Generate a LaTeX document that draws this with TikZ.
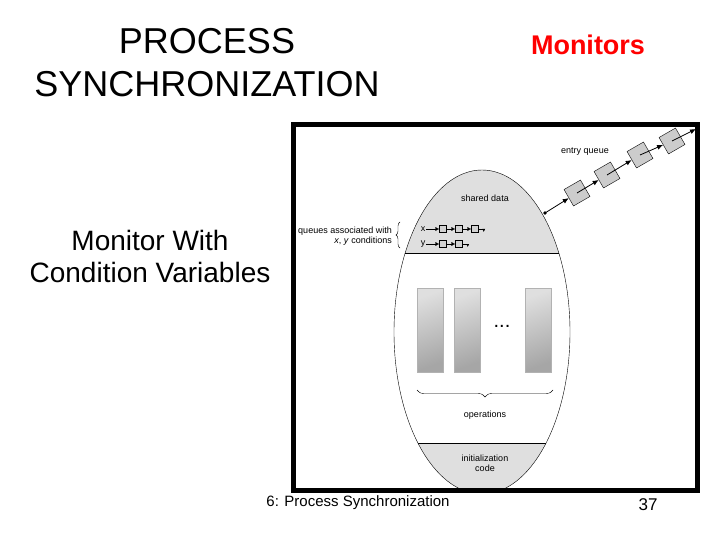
\documentclass[tikz,border=0pt]{standalone}
\usepackage{fontspec}
\setmainfont{Liberation Sans}
\usetikzlibrary{calc,decorations.pathreplacing,arrows.meta}
\begin{document}
\begin{tikzpicture}[x=1pt,y=-1pt,
  opbox/.style={draw=gray!60,top color=gray!25,bottom color=gray!70,shading angle=20},
  qbox/.style={draw,fill=gray!35,minimum size=7pt,inner sep=0pt},
  ebox/.style={draw,fill=gray!40,minimum size=19pt,inner sep=0pt,rotate=30},
  small/.style={font=\fontsize{9}{10}\selectfont,inner sep=1pt}]
  \useasboundingbox (0,0) rectangle (720,540);

  %% Titles
  \node[align=center,font=\fontsize{36}{43}\selectfont] (title) at (207,63) {PROCESS\\SYNCHRONIZATION};
  \node[text=red,font=\fontsize{27}{30}\selectfont\bfseries] (mon) at (588,45) {Monitors};
  \node[align=center,font=\fontsize{28}{32}\selectfont] (sub) at (150,256) {Monitor With\\Condition Variables};
  \node[font=\fontsize{15}{17}\selectfont] (foot) at (358,503) {6: Process Synchronization};
  \node[font=\fontsize{17}{19}\selectfont] (page) at (648,505) {37};

  %% Monitor body
  \begin{scope}
    \clip (293,125) rectangle (697,490);
    \fill[white] (482,332) ellipse (88 and 162);
    \begin{scope}
      \clip (482,332) ellipse (88 and 162);
      \fill[gray!25] (380,160) rectangle (580,253);
      \fill[gray!25] (380,443) rectangle (580,500);
      \draw[thick] (380,253) -- (580,253);
      \draw (380,443) -- (580,443);
    \end{scope}
    \draw (482,332) ellipse (88 and 162);
  \end{scope}
  \draw[line width=5pt] (293,125) rectangle (697,490);

  \node[small] (shared) at (485,198) {shared data};

  %% Operations
  \foreach \x/\n in {417/1,454/2,525/3}
    \draw[opbox] (\x,288) rectangle (\x+26,372) coordinate (op\n);
  \node[font=\fontsize{20}{20}\selectfont] (dots) at (502,326) {...};
  \draw[decorate,decoration={brace,amplitude=7pt,mirror}] (417,390) -- (553,390);
  \node[small] (ops) at (485,415) {operations};
  \node[small,align=center] (init) at (485,463) {initialization\\code};

  %% Condition queues
  \node[small,align=right,anchor=east] (cond) at (393,236) {queues associated with\\\textit{x}, \textit{y} conditions};
  \draw[decorate,decoration={brace,amplitude=4pt}] (400,248) -- (400,222);
  \node[small] (x) at (423,229) {x};
  \node[small] (y) at (423,244) {y};
  \foreach \i/\x in {1/443,2/459,3/475}
    \node[qbox] (xq\i) at (\x,229) {};
  \foreach \i/\x in {1/443,2/459}
    \node[qbox] (yq\i) at (\x,244) {};
  \tikzset{qarrow/.style={-{Latex[length=4pt,width=4pt]}}}
  \draw[qarrow] (x) -- (xq1);
  \draw[qarrow] (xq1) -- (xq2);
  \draw[qarrow] (xq2) -- (xq3);
  \draw[-{Latex[length=3pt,width=3pt]}] (xq3.east) -- ++(5,0) -- ++(0,3);
  \draw[qarrow] (y) -- (yq1);
  \draw[qarrow] (yq1) -- (yq2);
  \draw[-{Latex[length=3pt,width=3pt]}] (yq2.east) -- ++(5,0) -- ++(0,3);

  %% Entry queue
  \coordinate (door) at (545,213);
  \fill (door) circle (1.8);
  \foreach \i/\x/\y in {1/577/193,2/607/175,3/640/155,4/672/141}
    \node[ebox] (e\i) at (\x,\y) {};
  \tikzset{earrow/.style={thick,-{Latex[length=6pt,width=5pt]}}}
  \draw[earrow] (door) -- (e1);
  \draw[earrow] (e1.center) -- (e2);
  \draw[earrow] (e2.center) -- (e3);
  \draw[earrow] (e3.center) -- (e4);
  \coordinate (tail) at (696,129);
  \draw[earrow] (e4.center) -- (tail);
  \node[small] (entry) at (585,152) {entry queue};
\end{tikzpicture}
\end{document}
